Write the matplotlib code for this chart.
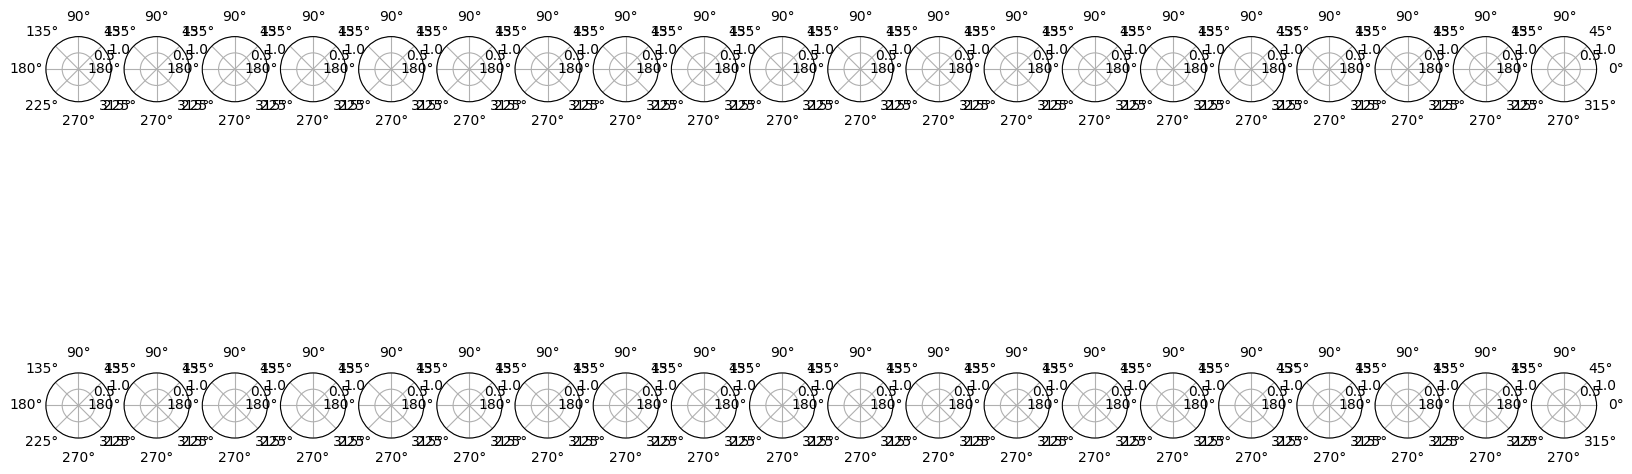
import matplotlib
matplotlib.use("Agg")
import matplotlib.pyplot as plt

# grid of empty polar axes
n_rows = 2
n_cols = 20

fig, axes = plt.subplots(n_rows, n_cols, figsize=(16.33, 4.74), dpi=100,
                         subplot_kw=dict(projection="polar"))
# the original was cropped tightly, so the grid cells run past the figure edges
fig.subplots_adjust(left=0.0281, right=0.9777, bottom=-0.1511, top=1.1497,
                    wspace=0.2, hspace=0.2)
fig.savefig("out.png", dpi=100)
